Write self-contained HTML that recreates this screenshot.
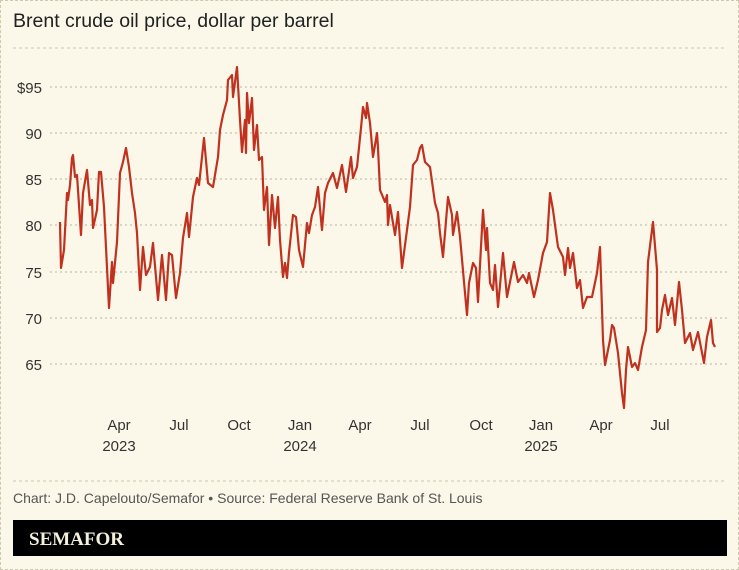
<!DOCTYPE html>
<html><head><style>
body{margin:0;background:#fbf8e9;}
.w{position:relative;width:737px;height:568px;border:1px dashed #ccc9b0;background:#fbf8e9;font-family:"Liberation Sans",sans-serif;overflow:hidden}
</style></head><body><div class="w">
<svg width="739" height="570" style="position:absolute;left:-1px;top:-1px" font-family="Liberation Sans, sans-serif">
<text x="13" y="27" font-size="19.5" fill="#222">Brent crude oil price, dollar per barrel</text>
<line x1="13" y1="48" x2="727" y2="48" stroke="#c9c6b2" stroke-dasharray="3,3"/>
<g stroke="#b8b5a3" stroke-dasharray="2,3" stroke-width="1">
<line x1="50" y1="87" x2="727" y2="87"/><line x1="50" y1="133" x2="727" y2="133"/>
<line x1="50" y1="179" x2="727" y2="179"/><line x1="50" y1="225" x2="727" y2="225"/>
<line x1="50" y1="272" x2="727" y2="272"/><line x1="50" y1="318" x2="727" y2="318"/>
<line x1="50" y1="364" x2="727" y2="364"/>
</g>
<g font-size="15" fill="#333" text-anchor="end">
<text x="42" y="93">$95</text><text x="42" y="139">90</text><text x="42" y="185">85</text>
<text x="42" y="231">80</text><text x="42" y="278">75</text><text x="42" y="324">70</text><text x="42" y="370">65</text>
</g>
<g font-size="15" fill="#333" text-anchor="middle">
<text x="119" y="430">Apr</text><text x="119" y="451">2023</text>
<text x="179" y="430">Jul</text><text x="239" y="430">Oct</text>
<text x="300" y="430">Jan</text><text x="300" y="451">2024</text>
<text x="360" y="430">Apr</text><text x="420" y="430">Jul</text><text x="481" y="430">Oct</text>
<text x="541" y="430">Jan</text><text x="541" y="451">2025</text>
<text x="601" y="430">Apr</text><text x="660" y="430">Jul</text>
</g>
<polyline fill="none" stroke="#c0311f" stroke-width="2.2" stroke-linejoin="round" points="60,222 61,268 64,250 67,193 68,200 70,185 72,158 73,155 75,177 77,175 81,235 83,193 87,170 90,205 92,200 93,228 97,210 99,172 101,172 104,207 109,308 112,262 113,283 117,242 120,173 123,162 126,148 129,167 132,193 135,213 137,233 140,290 143,247 146,275 150,267 153,243 158,300 162,255 166,300 169,253 172,255 176,298 180,273 183,238 187,213 189,237 193,197 197,178 199,185 202,157 204,138 208,183 213,187 218,157 220,130 223,115 227,100 228,80 232,75 233,97 237,67 240,120 242,152 245,120 246,153 247,93 249,123 252,98 254,150 257,125 259,160 262,157 264,210 267,187 269,245 272,195 275,228 278,197 280,240 283,277 285,263 287,278 289,253 293,215 296,217 299,250 303,267 307,223 309,233 312,215 315,207 318,187 322,230 325,193 328,183 333,173 337,188 342,165 346,192 351,157 353,178 357,167 361,128 363,107 366,118 367,103 370,123 373,157 377,133 378,148 380,190 385,202 387,195 388,225 390,205 395,235 398,212 402,268 407,230 410,207 413,165 417,160 420,148 422,145 425,162 430,167 435,203 438,213 440,233 443,257 448,197 452,215 453,235 457,212 460,237 465,293 467,315 469,283 473,263 476,268 478,302 483,210 486,250 487,228 490,283 493,290 495,265 498,307 503,253 507,297 514,262 518,282 523,275 527,283 529,273 534,297 538,280 543,253 547,242 550,193 553,210 558,247 563,257 565,275 568,248 570,268 573,253 577,288 580,280 583,308 587,297 592,297 597,273 600,247 603,340 605,365 610,340 612,325 614,328 618,353 622,393 624,408 626,370 628,347 632,367 635,363 638,370 642,347 646,330 648,262 653,222 657,270 657,332 660,328 662,310 665,295 668,315 672,298 675,325 679,282 682,310 685,343 690,333 693,350 698,332 704,363 707,337 711,320 713,343 715,347"/>
<line x1="13" y1="481" x2="727" y2="481" stroke="#c9c6b2" stroke-dasharray="3,3"/>
<text x="13" y="503" font-size="14" fill="#555">Chart: J.D. Capelouto/Semafor • Source: Federal Reserve Bank of St. Louis</text>
<rect x="13" y="520" width="714" height="36" fill="#000"/>
<text x="29" y="545" font-size="19" font-weight="bold" fill="#f5f0dc" font-family="Liberation Serif, serif">SEMAFOR</text>
</svg></div></body></html>
